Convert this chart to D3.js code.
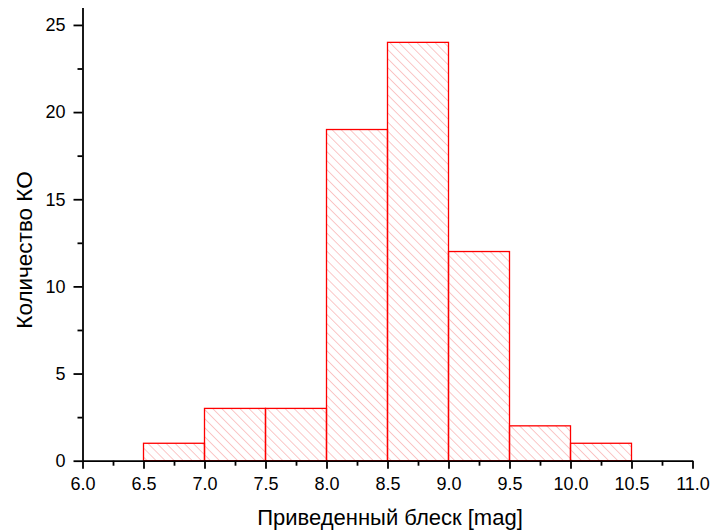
<!DOCTYPE html>
<html>
<head>
<meta charset="utf-8">
<script src="https://cdn.jsdelivr.net/npm/d3@7"></script>
<style>
  body { margin: 0; background: #fff; }
  text { font-family: "Liberation Sans", Arial, sans-serif; }
</style>
</head>
<body>
<div id="chart"></div>
<script>
// Histogram bins (left edge, right edge) and counts
const binStarts = [6.5, 7.0, 7.5, 8.0, 8.5, 9.0, 9.5, 10.0];
const binEnds = [7.0, 7.5, 8.0, 8.5, 9.0, 9.5, 10.0, 10.5];
const counts = [1, 3, 3, 19, 24, 12, 2, 1];
const xTicks = [6.0, 6.5, 7.0, 7.5, 8.0, 8.5, 9.0, 9.5, 10.0, 10.5, 11.0];
const yTicks = [0, 5, 10, 15, 20, 25];

const W = 712, H = 531;
const margin = { top: 7.5, right: 19.5, bottom: 70.3, left: 82.5 },
    width = W - margin.left - margin.right,
    height = H - margin.top - margin.bottom;

const svg = d3.select("#chart").append("svg")
    .attr("width", W)
    .attr("height", H);

// hatch pattern, lines running top-left to bottom-right
const defs = svg.append("defs");
const pat = defs.append("pattern")
    .attr("id", "hatch")
    .attr("patternUnits", "userSpaceOnUse")
    .attr("width", 6.4)
    .attr("height", 6.4)
    .attr("patternTransform", "rotate(-45)");
pat.append("line")
    .attr("x1", 0).attr("y1", 0)
    .attr("x2", 0).attr("y2", 6.4)
    .attr("stroke", "#f79a9a")
    .attr("stroke-width", 1.1);

const g = svg.append("g")
    .attr("transform", `translate(${margin.left},${margin.top})`);

const x = d3.scaleLinear().domain([6, 11]).range([0, width]);
const y = d3.scaleLinear().domain([0, 26]).range([height, 0]);

const bins = counts.map((c, i) => ({ x0: binStarts[i], x1: binEnds[i], n: c }));

// bars
g.selectAll(".bar").data(bins).enter()
    .append("rect")
    .attr("class", "bar")
    .attr("x", d => x(d.x0))
    .attr("y", d => y(d.n))
    .attr("width", d => x(d.x1) - x(d.x0))
    .attr("height", d => y(0) - y(d.n))
    .attr("fill", "url(#hatch)")
    .attr("stroke", "#ff0000")
    .attr("stroke-width", 1.3);

// x axis, minor then major ticks
const xMinor = g.append("g").attr("transform", `translate(0,${height})`)
    .call(d3.axisBottom(x).tickValues(d3.range(6.25, 11, 0.5)).tickSize(5).tickFormat(""));
xMinor.select(".domain").remove();
g.append("g").attr("transform", `translate(0,${height})`)
    .call(d3.axisBottom(x).tickValues(xTicks).tickSize(8).tickSizeOuter(0).tickPadding(9).tickFormat(d3.format(".1f")));

// y axis
const yMinor = g.append("g").call(d3.axisLeft(y).tickValues(d3.range(2.5, 26, 5)).tickSize(5).tickFormat(""));
yMinor.select(".domain").remove();
g.append("g")
    .call(d3.axisLeft(y).tickValues(yTicks).tickSize(9).tickSizeOuter(0).tickPadding(8));

g.selectAll(".tick line, .domain").attr("stroke", "#000").attr("stroke-width", 1.8);
g.selectAll(".tick text").attr("font-size", 18).attr("fill", "#000")
    .style("font-family", "'Liberation Sans', Arial, sans-serif");

// axis titles
svg.append("text")
    .attr("x", 390)
    .attr("y", 525)
    .attr("text-anchor", "middle")
    .attr("font-size", 22)
    .text("Приведенный блеск [mag]");

svg.append("text")
    .attr("transform", `translate(32,250) rotate(-90)`)
    .attr("text-anchor", "middle")
    .attr("font-size", 22.5)
    .text("Количество КО");
</script>
</body>
</html>
